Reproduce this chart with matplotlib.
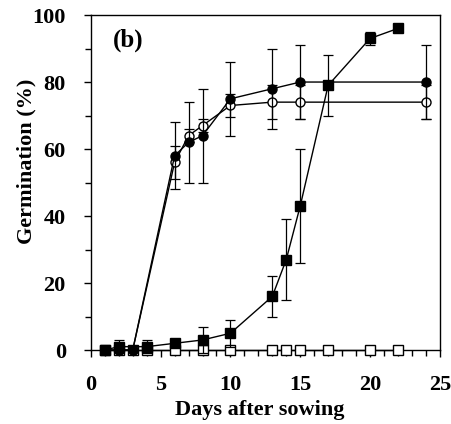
import numpy as np
import matplotlib
matplotlib.use("Agg")
import matplotlib.pyplot as plt
from matplotlib.ticker import MultipleLocator

# ------------------
# Data
# ------------------
# filled circles
fc_x = [1, 2, 3, 6, 7, 8, 10, 13, 15, 24]
fc_y = [0, 0, 0, 58, 62, 64, 75, 78, 80, 80]
fc_e = [0, 0, 0, 10, 12, 14, 11, 12, 11, 11]

# open circles
oc_x = [1, 2, 3, 6, 7, 8, 10, 13, 15, 24]
oc_y = [0, 0, 0, 56, 64, 67, 73, 74, 74, 74]
oc_e = [0, 0, 0, 5, 2, 2, 3.5, 5, 5, 5]

# filled squares
fs_x = [1, 2, 4, 6, 8, 10, 13, 14, 15, 17, 20, 22]
fs_y = [0, 1, 1, 2, 3, 5, 16, 27, 43, 79, 93, 96]
fs_e = [0, 2, 2, 1, 4, 4, 6, 12, 17, 9, 2, 1]

# open squares
os_x = [1, 2, 3, 4, 6, 8, 10, 13, 14, 15, 17, 20, 22]
os_y = [0] * 13

plt.rcParams['font.family'] = ['Liberation Serif', 'DejaVu Serif']
plt.rcParams['font.weight'] = 'bold'

fig = plt.figure(figsize=(4.52, 4.24), dpi=100)
ax = fig.add_axes([0.201, 0.1745, 0.772, 0.790])

common = dict(color='black', lw=1.0, ms=6.5, capsize=3.5, elinewidth=0.9,
              capthick=0.9, clip_on=False)

ax.errorbar(os_x, os_y, marker='s', mfc='white', mec='black', zorder=3, **common)
ax.errorbar(fs_x, fs_y, yerr=fs_e, marker='s', mfc='black', mec='black', zorder=4, **common)
ax.errorbar(oc_x, oc_y, yerr=oc_e, marker='o', mfc='white', mec='black', zorder=5, **common)
ax.errorbar(fc_x, fc_y, yerr=fc_e, marker='o', mfc='black', mec='black', zorder=6, **common)

ax.set_xlim(0, 25)
ax.set_ylim(0, 100)
ax.xaxis.set_major_locator(MultipleLocator(5))
ax.xaxis.set_minor_locator(MultipleLocator(1))
ax.yaxis.set_major_locator(MultipleLocator(20))
ax.yaxis.set_minor_locator(MultipleLocator(10))
ax.tick_params(which='major', direction='out', length=5, width=1, labelsize=16)
ax.tick_params(axis='y', which='major', pad=13)
ax.tick_params(axis='x', which='major', pad=13)
ax.tick_params(which='minor', direction='out', length=4, width=1)
for lab in ax.get_xticklabels() + ax.get_yticklabels():
    lab.set_fontweight('bold')

for s in ax.spines.values():
    s.set_linewidth(1.0)

ax.set_xlabel('Days after sowing', fontsize=16, fontweight='bold')
ax.set_ylabel('Germination (%)', fontsize=16, fontweight='bold')
ax.xaxis.set_label_coords(0.484, -0.149)
ax.yaxis.set_label_coords(-0.155, 0.564)
ax.text(1.55, 92.5, '(b)', fontsize=18, fontweight='bold', va='center', ha='left')

fig.savefig('out.png', dpi=100)
